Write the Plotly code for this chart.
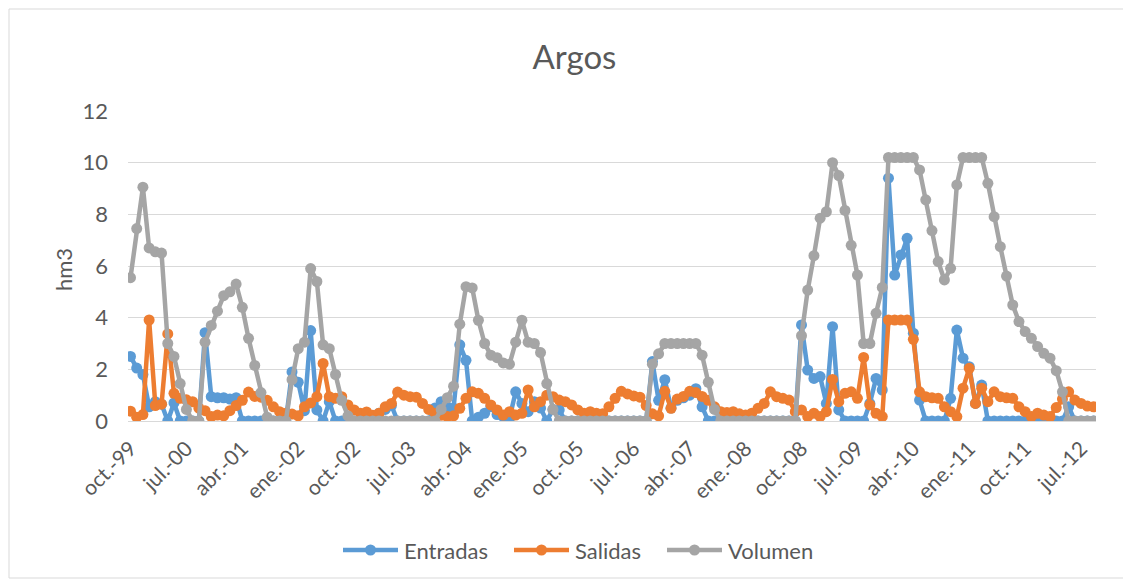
import plotly.graph_objects as go

# Monthly series Oct-1999 .. Sep-2012 (156 months)
meses = ["ene.", "feb.", "mar.", "abr.", "may.", "jun.", "jul.", "ago.", "sep.", "oct.", "nov.", "dic."]
categorias = []
for k in range(156):
    m = (9 + k) % 12
    y = (1999 + (9 + k) // 12) % 100
    categorias.append(f"{meses[m]}-{y:02d}")

entradas = [
    2.5, 2.05, 1.8, 0.55, 0.75, 0.65, 0, 0.7, 0, 0, 0, 0,
    3.42, 0.94, 0.9, 0.9, 0.85, 0.9, 0, 0, 0, 0, 0, 0,
    0, 0, 1.9, 1.5, 0.4, 3.5, 0.43, 0, 0.75, 0, 0, 0,
    0, 0, 0, 0, 0.3, 0.45, 0.6, 0, 0, 0, 0, 0,
    0, 0.5, 0.75, 0.55, 0.5, 2.95, 2.35, 0, 0.15, 0.3, 0.55, 0.25,
    0.17, 0.1, 1.13, 0.68, 0.36, 0.75, 0.5, 0, 0.45, 0.43, 0, 0,
    0, 0, 0, 0, 0, 0, 0, 0, 0, 0, 0, 0,
    2.3, 0.8, 1.6, 0.5, 0.8, 0.9, 1.0, 1.25, 0.55, 0, 0, 0,
    0, 0, 0, 0, 0, 0, 0, 0, 0, 0, 0, 0,
    3.72, 1.97, 1.65, 1.72, 0.68, 3.65, 0.43, 0, 0, 0, 0, 0.68,
    1.65, 1.2, 9.4, 5.65, 6.43, 7.07, 3.4, 0.81, 0, 0, 0, 0,
    0.88, 3.52, 2.43, 2.1, 0.68, 1.39, 0, 0, 0, 0, 0, 0,
    0, 0, 0, 0, 0, 0, 0, 0.55, 0, 0, 0, 0,
]

salidas = [
    0.38, 0.15, 0.25, 3.91, 0.6, 0.65, 3.37, 1.07, 0.88, 0.82, 0.75, 0.5,
    0.4, 0.17, 0.23, 0.2, 0.4, 0.6, 0.8, 1.12, 0.95, 0.92, 0.8, 0.55,
    0.36, 0.3, 0.27, 0.2, 0.55, 0.7, 0.94, 2.23, 0.94, 0.88, 0.94, 0.62,
    0.43, 0.3, 0.35, 0.22, 0.3, 0.55, 0.68, 1.12, 1.0, 0.94, 0.92, 0.68,
    0.45, 0.3, 0.22, 0.17, 0.2, 0.49, 0.88, 1.13, 1.07, 0.88, 0.62, 0.43,
    0.23, 0.36, 0.23, 0.3, 1.2, 0.55, 0.75, 1.0, 0.94, 0.81, 0.75, 0.62,
    0.43, 0.3, 0.36, 0.3, 0.28, 0.55, 0.88, 1.15, 1.05, 0.97, 0.92, 0.6,
    0.28, 0.2, 1.15, 0.49, 0.85, 0.95, 1.15, 1.1, 0.95, 0.8, 0.55, 0.36,
    0.33, 0.36, 0.28, 0.23, 0.3, 0.49, 0.68, 1.13, 0.94, 0.88, 0.81, 0.36,
    0.43, 0.17, 0.3, 0.17, 0.36, 1.61, 0.75, 1.07, 1.13, 0.88, 2.46, 0.62,
    0.3, 0.17, 3.91, 3.91, 3.91, 3.91, 3.16, 1.13, 0.94, 0.9, 0.88, 0.55,
    0.36, 0.17, 1.27, 2.04, 0.68, 1.27, 0.75, 1.13, 0.94, 0.9, 0.88, 0.55,
    0.36, 0.17, 0.3, 0.23, 0.17, 0.52, 0.85, 1.13, 0.81, 0.68, 0.58, 0.55,
]

volumen = [
    5.55, 7.45, 9.05, 6.7, 6.55, 6.5, 3.0, 2.5, 1.45, 0.45, 0, 0,
    3.05, 3.7, 4.25, 4.85, 5.0, 5.3, 4.4, 3.2, 2.15, 1.1, 0.15, 0,
    0, 0, 1.6, 2.8, 3.05, 5.9, 5.4, 2.95, 2.8, 1.8, 0.8, 0.2,
    0, 0, 0, 0, 0, 0, 0, 0, 0, 0, 0, 0,
    0, 0, 0.45, 0.9, 1.35, 3.75, 5.2, 5.15, 3.9, 3.0, 2.55, 2.45,
    2.25, 2.2, 3.05, 3.9, 3.05, 3.0, 2.65, 1.45, 0.45, 0, 0, 0,
    0, 0, 0, 0, 0, 0, 0, 0, 0, 0, 0, 0,
    2.2, 2.6, 3.0, 3.0, 3.0, 3.0, 3.0, 3.0, 2.55, 1.5, 0.45, 0,
    0, 0, 0, 0, 0, 0, 0, 0, 0, 0, 0, 0,
    3.3, 5.07, 6.4, 7.85, 8.1, 10.0, 9.5, 8.15, 6.8, 5.65, 3.0, 3.0,
    4.17, 5.17, 10.2, 10.2, 10.2, 10.2, 10.2, 9.72, 8.56, 7.37, 6.17, 5.46,
    5.91, 9.14, 10.2, 10.2, 10.2, 10.2, 9.2, 7.91, 6.75, 5.61, 4.49, 3.85,
    3.46, 3.2, 2.88, 2.62, 2.43, 1.95, 1.13, 0, 0, 0, 0, 0,
]

tick_labels = categorias[::9]

FONT = "Lato"
TXT = "#595959"

series = [("Entradas", entradas, "#5B9BD5"),
          ("Salidas", salidas, "#ED7D31"),
          ("Volumen", volumen, "#A5A5A5")]

fig = go.Figure()
for name, vals, col in series:
    fig.add_trace(go.Scatter(
        x=categorias, y=vals, name=name, mode="lines+markers",
        line=dict(color=col, width=4.5),
        marker=dict(color=col, size=11),
        showlegend=False,
    ))

OFF = 8  # page body margin
W, H = 1131 - OFF, 581 - OFF
L, R, T, B = 128 - OFF, 35, 111 - OFF, 160
pw = W - L - R
ph = H - T - B


def px(xp):  # page x -> paper
    return (xp - OFF - L) / pw


def py(yp):  # page y -> paper
    return (421 - yp) / ph


shapes = [dict(type="rect", xref="paper", yref="paper",
               x0=px(9), x1=px(1127), y0=py(578), y1=py(9),
               line=dict(color="#D9D9D9", width=1), fillcolor="rgba(0,0,0,0)",
               layer="below")]
annotations = [dict(text="hm3", xref="paper", yref="paper",
                    x=px(63), y=py(270), showarrow=False,
                    textangle=-90, font=dict(size=22, color=TXT),
                    xanchor="center", yanchor="middle")]

# legend drawn in Excel style (long line with marker, then label)
leg_y = 550
leg_starts = [343, 514, 667]
for (name, _, col), x0 in zip(series, leg_starts):
    shapes.append(dict(type="line", xref="paper", yref="paper",
                       x0=px(x0), x1=px(x0 + 55), y0=py(leg_y), y1=py(leg_y),
                       line=dict(color=col, width=4.5)))
    shapes.append(dict(type="circle", xref="paper", yref="paper",
                       xsizemode="pixel", ysizemode="pixel",
                       xanchor=px(x0 + 27.5), yanchor=py(leg_y),
                       x0=-5.5, x1=5.5, y0=-5.5, y1=5.5,
                       fillcolor=col, line=dict(width=0)))
    annotations.append(dict(text=name, xref="paper", yref="paper",
                            x=px(x0 + 59), y=py(leg_y), showarrow=False,
                            xanchor="left", yanchor="middle",
                            font=dict(size=22, color=TXT)))

fig.update_layout(
    width=W, height=H,
    margin=dict(l=L, r=R, t=T, b=B, pad=0),
    paper_bgcolor="white", plot_bgcolor="white",
    font=dict(family=FONT, color=TXT, size=22),
    showlegend=False,
    title=dict(text="Argos", x=(574.5 - OFF) / W, xanchor="center",
               y=1 - (57 - OFF) / H, yanchor="middle", yref="container",
               font=dict(family=FONT, size=33, color=TXT)),
    xaxis=dict(
        type="category", range=[-0.4, 155.4],
        tickmode="array", tickvals=tick_labels, ticktext=tick_labels,
        tickangle=-45, showgrid=False, showline=True, linecolor="#D9D9D9",
        linewidth=1, ticks="", tickfont=dict(size=21, color=TXT),
        zeroline=False, ticklabelstandoff=6,
    ),
    yaxis=dict(
        range=[0, 12], dtick=2, showgrid=True, gridcolor="#D9D9D9",
        gridwidth=1, zeroline=False, showline=False, ticks="",
        tickfont=dict(size=22, color=TXT), ticklabelstandoff=19,
    ),
    annotations=annotations,
    shapes=shapes,
)

fig.write_html("out.html")
